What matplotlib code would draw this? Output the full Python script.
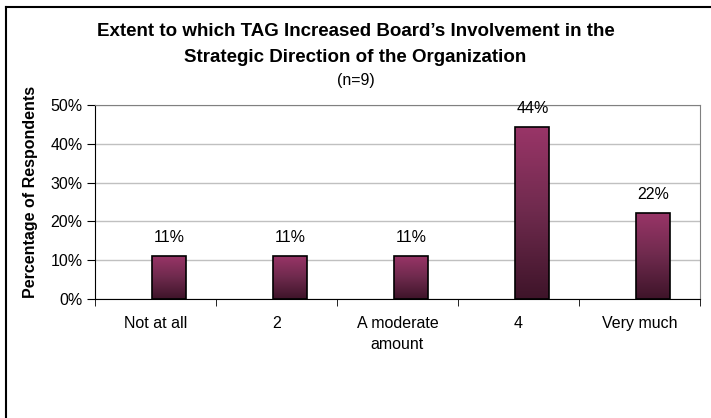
import matplotlib
matplotlib.use('Agg')
import matplotlib.pyplot as plt
import numpy as np
from matplotlib.colors import LinearSegmentedColormap
from matplotlib.lines import Line2D

plt.rcParams['font.family'] = ['Liberation Sans', 'DejaVu Sans']

categories = ['Not at all', '2', 'A moderate\namount', '4', 'Very much']
values = [11.1, 11.1, 11.1, 44.4, 22.2]
labels = ['11%', '11%', '11%', '44%', '22%']
yticks = [0, 10, 20, 30, 40, 50]

fig = plt.figure(figsize=(7.11, 4.18), dpi=100)
ax = fig.add_axes([0.1336, 0.2847, 0.8509, 0.4641])

# frame lines of the original chart object (top and left only visible)
fig.add_artist(Line2D([6 / 711, 6 / 711], [0, 1 - 7 / 418],
                      transform=fig.transFigure, color='black', lw=1.5))
fig.add_artist(Line2D([6 / 711, 1], [1 - 7 / 418, 1 - 7 / 418],
                      transform=fig.transFigure, color='black', lw=1.5))

x = np.arange(len(categories))
bars = ax.bar(x - 0.025, values, width=0.28, align='edge',
              facecolor='none', edgecolor='black', linewidth=1.2, zorder=3)

cmap = LinearSegmentedColormap.from_list('bar', ['#3e1429', '#6e2a4d', '#9a3568'])
grad = np.linspace(0, 1, 256).reshape(-1, 1)
for b in bars:
    im = ax.imshow(grad, cmap=cmap, origin='lower', aspect='auto',
                   extent=[b.get_x(), b.get_x() + b.get_width(), 0, b.get_height()],
                   zorder=2)
    im.set_clip_path(b)

for b, lab in zip(bars, labels):
    ax.annotate(lab, (b.get_x() + b.get_width() / 2, b.get_height()),
                xytext=(0, 8), textcoords='offset points',
                ha='center', va='bottom', fontsize=11.5)

ax.set_xlim(-0.5, len(categories) - 0.5)
ax.set_ylim(0, 50)
ax.set_yticks(yticks)
ax.set_yticklabels([f'{t}%' for t in yticks], fontsize=11.5)
ax.set_xticks(x)
ax.set_xticklabels(categories, fontsize=11.5, linespacing=1.5)
ax.set_xticks(np.arange(-0.5, len(categories)), minor=True)
ax.tick_params(axis='x', which='major', length=0, pad=12)
ax.tick_params(axis='x', which='minor', length=5, direction='out')
ax.tick_params(axis='y', length=6, pad=3)

ax.grid(axis='y', color='#c0c0c0', lw=1, zorder=0)
ax.set_axisbelow(True)
for s in ['top', 'right']:
    ax.spines[s].set_color('#808080')
ax.spines['left'].set_color('black')
ax.spines['bottom'].set_color('black')

ax.set_ylabel('Percentage of Respondents', fontsize=11.5, fontweight='bold')
ax.yaxis.set_label_coords(-0.095, 0.55)

fig.text(0.5, 1 - 32 / 418, 'Extent to which TAG Increased Board\u2019s Involvement in the',
         ha='center', va='center', fontsize=13.5, fontweight='bold')
fig.text(0.5, 1 - 57 / 418, 'Strategic Direction of the Organization',
         ha='center', va='center', fontsize=13.5, fontweight='bold')
fig.text(0.5, 1 - 81 / 418, '(n=9)', ha='center', va='center', fontsize=11.5)

fig.savefig('out.png', dpi=100)
